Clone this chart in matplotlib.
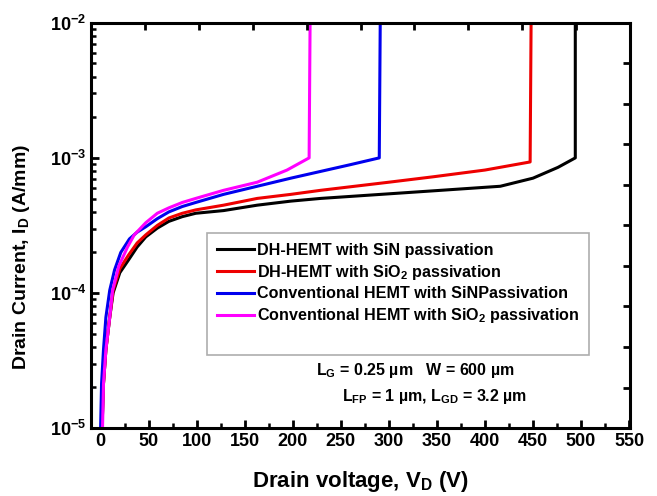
import numpy as np
import matplotlib
matplotlib.use("Agg")
from matplotlib import pyplot as plt
from matplotlib.ticker import MultipleLocator, LogLocator, NullFormatter

plt.rcParams['font.family'] = ['Liberation Sans', 'DejaVu Sans']
plt.rcParams['font.weight'] = 'bold'
plt.rcParams['mathtext.fontset'] = 'custom'
plt.rcParams['mathtext.rm'] = 'Liberation Sans:bold'
plt.rcParams['mathtext.bf'] = 'Liberation Sans:bold'
plt.rcParams['mathtext.it'] = 'Liberation Sans:bold'
plt.rcParams['mathtext.default'] = 'rm'

# drain voltage (V) and log10 of drain current (A/mm)
v_dh_sin = [1.5, 3, 5.5, 9.5, 13, 20, 29, 38, 47, 59, 71, 85, 99, 128, 163, 198, 229, 300, 350, 416, 450,
            476, 494, 494]
logi_dh_sin = [-5.0, -4.67, -4.42, -4.18, -4.0, -3.85, -3.756, -3.66, -3.585, -3.52, -3.47, -3.435, -3.41,
               -3.39, -3.35, -3.32, -3.30, -3.266, -3.242, -3.21, -3.15, -3.07, -3.0, -2.0]

v_dh_sio2 = [1.5, 3, 5.5, 9.5, 13, 20, 29, 38, 47, 59, 71, 85, 99, 128, 163, 198, 229, 300, 346, 400, 447,
             448]
logi_dh_sio2 = [-5.0, -4.67, -4.42, -4.18, -3.98, -3.82, -3.72, -3.63, -3.57, -3.50, -3.445, -3.41, -3.385,
                -3.35, -3.30, -3.27, -3.24, -3.18, -3.14, -3.09, -3.03, -2.0]

v_conv_sin = [0, 1, 3, 5.5, 9.5, 14.5, 21, 30, 38, 47, 59, 71, 85, 99, 128, 163, 198, 229, 260, 290, 291]
logi_conv_sin = [-5.0, -4.67, -4.42, -4.18, -3.98, -3.83, -3.70, -3.60, -3.55, -3.51, -3.45, -3.40, -3.36,
                 -3.33, -3.27, -3.21, -3.15, -3.10, -3.05, -3.0, -2.0]

v_conv_sio2 = [2, 3, 5.5, 9.5, 12.5, 19, 28, 35, 47, 59, 71, 85, 99, 128, 163, 194, 217, 218]
logi_conv_sio2 = [-5.0, -4.67, -4.42, -4.18, -3.98, -3.8, -3.66, -3.57, -3.48, -3.41, -3.37, -3.33, -3.30,
                  -3.24, -3.18, -3.09, -3.0, -2.0]

fig = plt.figure(figsize=(6.57, 4.96), dpi=100)
ax = fig.add_axes([0.1385, 0.137, 0.8205, 0.817])

lw = 2.2
ax.plot(v_dh_sin, 10 ** np.array(logi_dh_sin), color='black', lw=lw, label='DH-HEMT with SiN passivation')
ax.plot(v_dh_sio2, 10 ** np.array(logi_dh_sio2), color='#ee0000', lw=lw, label='DH-HEMT with SiO$_2$ passivation')
ax.plot(v_conv_sin, 10 ** np.array(logi_conv_sin), color='#0000ee', lw=lw,
        label='Conventional HEMT with SiNPassivation')
ax.plot(v_conv_sio2, 10 ** np.array(logi_conv_sio2), color='#ff00ff', lw=lw,
        label='Conventional HEMT with SiO$_2$ passivation')
ax.plot([], [], color='none', label=' ')

ax.set_yscale('log')
ax.set_xlim(-10, 551)
ax.set_ylim(1e-5, 1e-2)
ax.xaxis.set_major_locator(MultipleLocator(50))
ax.xaxis.set_minor_locator(MultipleLocator(25))
ax.yaxis.set_major_locator(LogLocator(base=10, numticks=10))
ax.yaxis.set_minor_locator(LogLocator(base=10, subs=np.arange(2, 10), numticks=10))
ax.yaxis.set_minor_formatter(NullFormatter())
ax.tick_params(which='major', direction='in', length=6, width=2, labelsize=13, top=False, right=False)
ax.tick_params(which='minor', direction='in', length=3.5, width=1.8, top=False, right=False)
for s in ax.spines.values():
    s.set_linewidth(2.2)

# top and right frame ticks split the frame in ten parts
ax_t = ax.twiny()
ax_t.set_xlim(0, 10)
ax_t.set_xticks(range(1, 10))
ax_t.tick_params(direction='in', length=5, width=2, labeltop=False)
ax_r = ax.twinx()
ax_r.set_ylim(0, 10)
ax_r.set_yticks(range(1, 10))
ax_r.tick_params(direction='in', length=5, width=2, labelright=False)

ax.set_xlabel('Drain voltage, V$_D$ (V)', fontsize=16, fontweight='bold', labelpad=14)
ax.set_ylabel('Drain Current, I$_D$ (A/mm)', fontsize=14, fontweight='bold')
ax.yaxis.set_label_coords(-0.11, 0.422)

leg = ax.legend(loc='upper left', bbox_to_anchor=(0.215, 0.481), fontsize=11.6, frameon=True, fancybox=False,
                edgecolor='#999999', handlelength=2.3, handletextpad=0.2, labelspacing=0.3, borderpad=0.6,
                borderaxespad=0)
leg.get_frame().set_linewidth(1.2)

ax.text(0.601, 0.143, 'L$_G$ = 0.25 µm   W = 600 µm', transform=ax.transAxes, ha='center', va='center',
        fontsize=11.5, fontweight='bold')
ax.text(0.638, 0.077, 'L$_{FP}$ = 1 µm, L$_{GD}$ = 3.2 µm', transform=ax.transAxes, ha='center', va='center',
        fontsize=11.5, fontweight='bold')

fig.savefig('out.png', dpi=100)
